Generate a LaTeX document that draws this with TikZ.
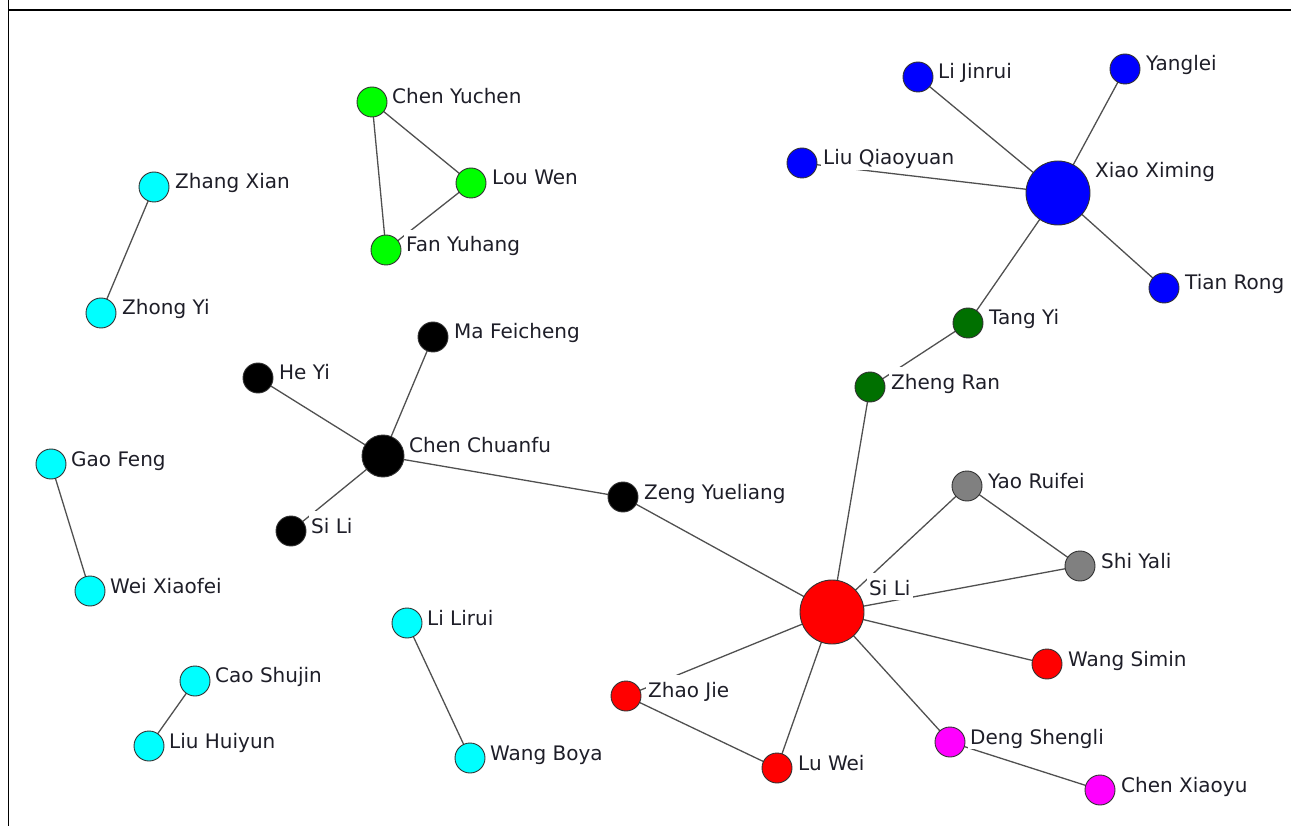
\documentclass[tikz,border=0pt]{standalone}
\usepackage{fontspec}
\setmainfont{DejaVu Sans}
\pgfdeclarelayer{bg}
\pgfsetlayers{bg,main}
\definecolor{cblue}{RGB}{0,0,255}
\definecolor{cdgreen}{RGB}{0,112,0}
\definecolor{cgreen}{RGB}{0,255,0}
\definecolor{ccyan}{RGB}{0,255,255}
\definecolor{cgrey}{RGB}{128,128,128}
\definecolor{cred}{RGB}{255,0,0}
\definecolor{cmag}{RGB}{255,0,255}
\definecolor{edgec}{RGB}{80,80,80}
\definecolor{rimc}{RGB}{50,50,50}
\definecolor{txtc}{RGB}{30,30,40}
\begin{document}
\begin{tikzpicture}[x=1pt,y=-1pt,
  pt/.style={circle,draw=rimc,line width=0.9pt,inner sep=0pt,minimum size=30pt},
  bigpt/.style={pt,minimum size=64pt},
  midpt/.style={pt,minimum size=42pt},
  lbl/.style={fill=white,inner xsep=2pt,inner ysep=0pt,text height=22pt,text depth=5pt,
    anchor=base west,text=txtc,font=\fontsize{20}{24}\selectfont},
  link/.style={draw=edgec,line width=1.3pt}]
\useasboundingbox (0,0) rectangle (1291,826);
\draw[line width=1.3pt] (8.5,0) -- (8.5,826);
\draw[line width=1.3pt] (8.5,10) -- (1291,10);
% blue
\node[pt,fill=cblue] (LiJinrui) at (918,77) {};
\node[pt,fill=cblue] (Yanglei) at (1125,69) {};
\node[pt,fill=cblue] (LiuQiaoyuan) at (802,163) {};
\node[bigpt,fill=cblue] (XiaoXiming) at (1058,193) {};
\node[pt,fill=cblue] (TianRong) at (1164,288) {};
% dark green
\node[pt,fill=cdgreen] (TangYi) at (968,323) {};
\node[pt,fill=cdgreen] (ZhengRan) at (870,387) {};
% green
\node[pt,fill=cgreen] (ChenYuchen) at (372,102) {};
\node[pt,fill=cgreen] (LouWen) at (471,183) {};
\node[pt,fill=cgreen] (FanYuhang) at (386,250) {};
% cyan
\node[pt,fill=ccyan] (ZhangXian) at (154,187) {};
\node[pt,fill=ccyan] (ZhongYi) at (101,313) {};
\node[pt,fill=ccyan] (GaoFeng) at (51,464) {};
\node[pt,fill=ccyan] (WeiXiaofei) at (90,591) {};
\node[pt,fill=ccyan] (CaoShujin) at (195,681) {};
\node[pt,fill=ccyan] (LiuHuiyun) at (149,746) {};
\node[pt,fill=ccyan] (LiLirui) at (407,623) {};
\node[pt,fill=ccyan] (WangBoya) at (470,758) {};
% black
\node[pt,fill=black] (MaFeicheng) at (433,337) {};
\node[pt,fill=black] (HeYi) at (258,378) {};
\node[midpt,fill=black] (ChenChuanfu) at (383,456) {};
\node[pt,fill=black] (SiLiB) at (291,531) {};
\node[pt,fill=black] (ZengYueliang) at (623,497) {};
% grey
\node[pt,fill=cgrey] (YaoRuifei) at (967,486) {};
\node[pt,fill=cgrey] (ShiYali) at (1080,566) {};
% red
\node[bigpt,fill=cred] (SiLiR) at (832,612) {};
\node[pt,fill=cred] (WangSimin) at (1047,664) {};
\node[pt,fill=cred] (ZhaoJie) at (626,696) {};
\node[pt,fill=cred] (LuWei) at (777,768) {};
% magenta
\node[pt,fill=cmag] (DengShengli) at (950,742) {};
\node[pt,fill=cmag] (ChenXiaoyu) at (1100,790) {};
% edges
\begin{pgfonlayer}{bg}
\draw[link] (LiJinrui.center) -- (XiaoXiming.center);
\draw[link] (Yanglei.center) -- (XiaoXiming.center);
\draw[link] (LiuQiaoyuan.center) -- (XiaoXiming.center);
\draw[link] (TianRong.center) -- (XiaoXiming.center);
\draw[link] (XiaoXiming.center) -- (TangYi.center);
\draw[link] (TangYi.center) -- (ZhengRan.center);
\draw[link] (ZhengRan.center) -- (SiLiR.center);
\draw[link] (ChenYuchen.center) -- (LouWen.center);
\draw[link] (ChenYuchen.center) -- (FanYuhang.center);
\draw[link] (LouWen.center) -- (FanYuhang.center);
\draw[link] (ZhangXian.center) -- (ZhongYi.center);
\draw[link] (GaoFeng.center) -- (WeiXiaofei.center);
\draw[link] (CaoShujin.center) -- (LiuHuiyun.center);
\draw[link] (LiLirui.center) -- (WangBoya.center);
\draw[link] (MaFeicheng.center) -- (ChenChuanfu.center);
\draw[link] (HeYi.center) -- (ChenChuanfu.center);
\draw[link] (SiLiB.center) -- (ChenChuanfu.center);
\draw[link] (ChenChuanfu.center) -- (ZengYueliang.center);
\draw[link] (ZengYueliang.center) -- (SiLiR.center);
\draw[link] (SiLiR.center) -- (YaoRuifei.center);
\draw[link] (SiLiR.center) -- (ShiYali.center);
\draw[link] (YaoRuifei.center) -- (ShiYali.center);
\draw[link] (SiLiR.center) -- (WangSimin.center);
\draw[link] (SiLiR.center) -- (ZhaoJie.center);
\draw[link] (SiLiR.center) -- (LuWei.center);
\draw[link] (SiLiR.center) -- (DengShengli.center);
\draw[link] (ZhaoJie.center) -- (LuWei.center);
\draw[link] (DengShengli.center) -- (ChenXiaoyu.center);
\end{pgfonlayer}
% labels
\node[lbl] (lLiJinrui) at (936,79) {Li Jinrui};
\node[lbl] (lYanglei) at (1144,71) {Yanglei};
\node[lbl] (lLiuQiaoyuan) at (821,165) {Liu Qiaoyuan};
\node[lbl] (lXiaoXiming) at (1093,178) {Xiao Ximing};
\node[lbl] (lTianRong) at (1183,290) {Tian Rong};
\node[lbl] (lTangYi) at (987,325) {Tang Yi};
\node[lbl] (lZhengRan) at (889,389) {Zheng Ran};
\node[lbl] (lChenYuchen) at (390,104) {Chen Yuchen};
\node[lbl] (lLouWen) at (490,185) {Lou Wen};
\node[lbl] (lFanYuhang) at (404,252) {Fan Yuhang};
\node[lbl] (lZhangXian) at (173,189) {Zhang Xian};
\node[lbl] (lZhongYi) at (120,315) {Zhong Yi};
\node[lbl] (lGaoFeng) at (69,466) {Gao Feng};
\node[lbl] (lWeiXiaofei) at (108,593) {Wei Xiaofei};
\node[lbl] (lCaoShujin) at (213,682) {Cao Shujin};
\node[lbl] (lLiuHuiyun) at (167,748) {Liu Huiyun};
\node[lbl] (lLiLirui) at (425,625) {Li Lirui};
\node[lbl] (lWangBoya) at (488,760) {Wang Boya};
\node[lbl] (lMaFeicheng) at (452,339) {Ma Feicheng};
\node[lbl] (lHeYi) at (277,380) {He Yi};
\node[lbl] (lChenChuanfu) at (407,452) {Chen Chuanfu};
\node[lbl] (lSiLiB) at (309,533) {Si Li};
\node[lbl] (lZengYueliang) at (642,499) {Zeng Yueliang};
\node[lbl] (lYaoRuifei) at (986,488) {Yao Ruifei};
\node[lbl] (lShiYali) at (1099,568) {Shi Yali};
\node[lbl] (lSiLiR) at (867,595) {Si Li};
\node[lbl] (lWangSimin) at (1066,666) {Wang Simin};
\node[lbl] (lZhaoJie) at (646,697) {Zhao Jie};
\node[lbl] (lLuWei) at (796,770) {Lu Wei};
\node[lbl] (lDengShengli) at (968,744) {Deng Shengli};
\node[lbl] (lChenXiaoyu) at (1119,792) {Chen Xiaoyu};
\end{tikzpicture}
\end{document}
